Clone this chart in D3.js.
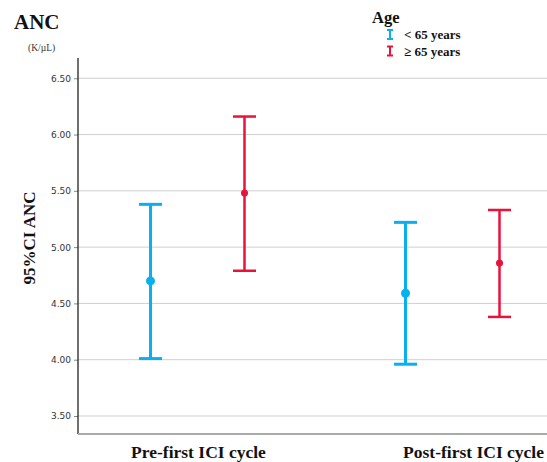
<!DOCTYPE html>
<html>
<head>
<meta charset="utf-8">
<script src="https://cdn.jsdelivr.net/npm/d3@7"></script>
<style>
  body { margin: 0; background: #fff; }
  svg { display: block; }
</style>
</head>
<body>
<div id="chart"></div>
<script>
const cycles  = ["Pre-first ICI cycle", "Post-first ICI cycle"];
const ages    = ["< 65 years", "\u2265 65 years"];
const means   = [[4.70, 5.48], [4.59, 4.86]];
const lowers  = [[4.01, 4.79], [3.96, 4.38]];
const uppers  = [[5.38, 6.16], [5.22, 5.33]];
const yTicks  = [3.5, 4.0, 4.5, 5.0, 5.5, 6.0, 6.5];

const COLORS = ["#0AB0EE", "#E8123C"];
const SERIF  = "'Liberation Serif', 'DejaVu Serif', serif";
const W = 547, H = 462;
const PLOT = { left: 78, right: 547, top: 58, bottom: 434 };

const svg = d3.select("#chart").append("svg")
  .attr("width", W).attr("height", H);

const y = d3.scaleLinear()
  .domain([3.34, 6.68])
  .range([PLOT.bottom, PLOT.top]);

// two groups, centres ~255px apart
const x = d3.scaleBand()
  .domain(cycles)
  .range([70, 580]);

const xAge = d3.scalePoint()
  .domain(ages)
  .range([-47, 47]);

// gridlines
svg.append("g")
  .selectAll("line")
  .data(yTicks)
  .join("line")
  .attr("x1", PLOT.left).attr("x2", PLOT.right)
  .attr("y1", d => y(d)).attr("y2", d => y(d))
  .attr("stroke", "#cfcfcf")
  .attr("stroke-width", 1);

// y axis
const yAxis = svg.append("g")
  .attr("transform", `translate(${PLOT.left},0)`)
  .call(d3.axisLeft(y).tickValues(yTicks).tickFormat(d3.format(".2f")).tickSize(4));
yAxis.select(".domain").remove();
yAxis.selectAll(".tick line").attr("stroke", "#888");
yAxis.selectAll("text")
  .attr("fill", "#333")
  .style("font-family", "'DejaVu Sans', sans-serif")
  .style("font-size", "9px");

// axis lines
svg.append("line")
  .attr("x1", PLOT.left).attr("x2", PLOT.left)
  .attr("y1", PLOT.top).attr("y2", PLOT.bottom)
  .attr("stroke", "#222").attr("stroke-width", 1.3);
svg.append("line")
  .attr("x1", PLOT.left).attr("x2", PLOT.right)
  .attr("y1", PLOT.bottom).attr("y2", PLOT.bottom)
  .attr("stroke", "#aaa").attr("stroke-width", 2);

// error bars
const capW = 23;
cycles.forEach((c, ci) => {
  ages.forEach((a, ai) => {
    const cx = x(c) + x.bandwidth() / 2 + xAge(a);
    const col = COLORS[ai];
    const sw = ai === 0 ? 3 : 2.5;
    const g = svg.append("g").attr("stroke", col).attr("stroke-width", sw);
    g.append("line")
      .attr("x1", cx).attr("x2", cx)
      .attr("y1", y(lowers[ci][ai])).attr("y2", y(uppers[ci][ai]));
    [lowers[ci][ai], uppers[ci][ai]].forEach(v => {
      g.append("line")
        .attr("x1", cx - capW / 2).attr("x2", cx + capW / 2)
        .attr("y1", y(v)).attr("y2", y(v));
    });
    svg.append("circle")
      .attr("cx", cx).attr("cy", y(means[ci][ai]))
      .attr("r", ai === 0 ? 4.5 : 3.5)
      .attr("fill", col);
  });
});

// x labels (last one pushed against the right edge, as in the original)
svg.append("g")
  .selectAll("text")
  .data(cycles)
  .join("text")
  .attr("x", (d, i) => i === cycles.length - 1 ? W - 3 : x(d) + x.bandwidth() / 2 + 1)
  .attr("y", 458)
  .attr("text-anchor", (d, i) => i === cycles.length - 1 ? "end" : "middle")
  .style("font-family", SERIF)
  .style("font-weight", "bold")
  .style("font-size", "17.5px")
  .attr("fill", "#111")
  .text(d => d);

// titles
svg.append("text")
  .attr("x", 14).attr("y", 29)
  .style("font-family", SERIF).style("font-weight", "bold")
  .style("font-size", "21px").attr("fill", "#111")
  .text("ANC");
svg.append("text")
  .attr("x", 28).attr("y", 51)
  .style("font-family", SERIF).style("font-size", "9.5px").attr("fill", "#333")
  .text("(K/\u00b5L)");
svg.append("text")
  .attr("transform", "translate(35,238) rotate(-90)")
  .attr("text-anchor", "middle")
  .style("font-family", SERIF).style("font-weight", "bold")
  .style("font-size", "17px").attr("fill", "#111")
  .text("95%CI ANC");

// legend
const leg = svg.append("g");
leg.append("text")
  .attr("x", 372).attr("y", 23)
  .style("font-family", SERIF).style("font-weight", "bold")
  .style("font-size", "16.5px").attr("fill", "#111")
  .text("Age");
ages.forEach((a, i) => {
  const ly = 38 + i * 16.5;
  const g = leg.append("g").attr("stroke", COLORS[i]).attr("stroke-width", 2);
  g.append("line").attr("x1", 390).attr("x2", 390).attr("y1", ly - 8).attr("y2", ly + 1);
  g.append("line").attr("x1", 387).attr("x2", 393).attr("y1", ly - 8).attr("y2", ly - 8);
  g.append("line").attr("x1", 387).attr("x2", 393).attr("y1", ly + 1).attr("y2", ly + 1);
  leg.append("text")
    .attr("x", 404).attr("y", ly + 1)
    .style("font-family", SERIF).style("font-weight", "bold")
    .style("font-size", "13px").attr("fill", "#111")
    .text(a);
});
</script>
</body>
</html>
